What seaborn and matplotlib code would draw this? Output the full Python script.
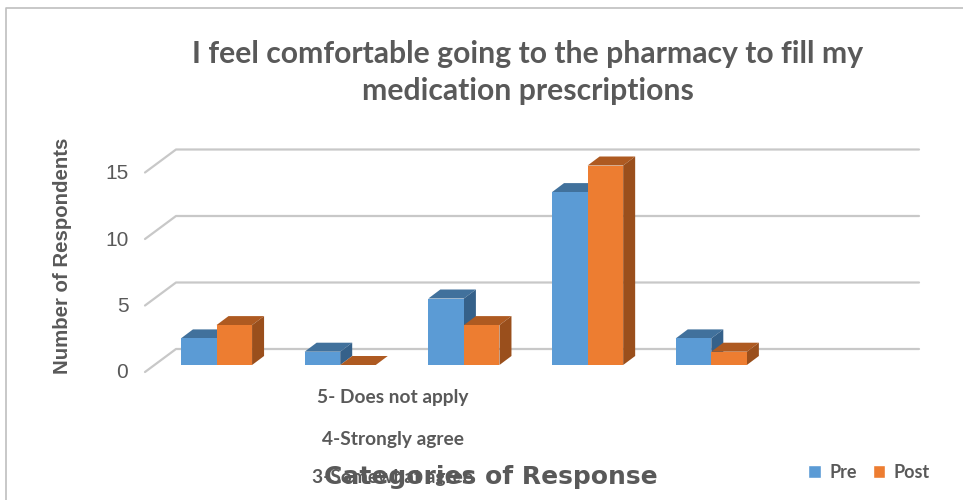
import matplotlib
matplotlib.use("Agg")
import matplotlib.pyplot as plt
from matplotlib.patches import Polygon, Rectangle
from matplotlib.transforms import Affine2D
import seaborn as sns
import pandas as pd

categories = ["1", "2", "3-Somewhat agree", "4-Strongly agree", "5- Does not apply"]
pre_values = [2, 1, 5, 13, 2]
post_values = [3, 0, 3, 15, 1]
y_tick_values = [0, 5, 10, 15]
stacked_labels = ["5- Does not apply", "4-Strongly agree", "3-Somewhat agree"]

W, H = 963, 500
BLUE, ORANGE = "#5B9BD5", "#ED7D31"
BLUE_TOP, BLUE_SIDE = "#41719C", "#35618A"
ORANGE_TOP, ORANGE_SIDE = "#AE5A21", "#9A4F1C"
GRID = "#C8C8C8"
TXT = "#595959"

sns.set_theme(style="white")
fig = plt.figure(figsize=(W / 100, H / 100), dpi=100, facecolor="white")

# axes: y=0 at pixel 365, 13.3 px per unit; category i at 216.5 + 123.7 i
L, R, BASE, TOP = 145, 925, 365, 140
ax = fig.add_axes([L / W, 1 - BASE / H, (R - L) / W, (BASE - TOP) / H])
ax.patch.set_alpha(0)
df = pd.DataFrame({
    "cat": categories * 2,
    "val": pre_values + post_values,
    "series": ["Pre"] * 5 + ["Post"] * 5,
})
sns.barplot(data=df, x="cat", y="val", hue="series", palette=[BLUE, ORANGE],
            hue_order=["Pre", "Post"], width=0.575, gap=0, dodge=True,
            saturation=1, legend=False, ax=ax, zorder=5, linewidth=0)
ax.set_xlim((L - 216.5) / 123.7, (R - 216.5) / 123.7)
ax.set_ylim(0, (BASE - TOP) / 13.3)
for s in ax.spines.values():
    s.set_visible(False)
ax.set_xticks([])
ax.set_xlabel("")
ax.set_ylabel("")


def shift(dx, dy):
    return ax.transData + Affine2D().translate(dx, dy)


# wall gridlines and floor/wall diagonals, offset in pixels from the data level
front = shift(0, -7)
to_disp = ax.transData
for v in y_tick_values:
    x_front_disp, y_front_disp = front.transform((ax.get_xlim()[0], v))
    x_back_disp, y_back_disp = x_front_disp + 31, y_front_disp + 23
    fig.add_artist(plt.Line2D([x_front_disp, x_back_disp, fig.bbox.width * 919 / W],
                              [y_front_disp, y_back_disp, y_back_disp],
                              transform=None, color=GRID, lw=1.6, zorder=0))

# depth faces built from each bar's geometry
DX, DY = 12, 9
containers = ax.containers
for bc, top_c, side_c in zip(containers, (BLUE_TOP, ORANGE_TOP), (BLUE_SIDE, ORANGE_SIDE)):
    for bar in bc:
        (x0, y0), (x1, y1) = to_disp.transform(
            [(bar.get_x(), 0), (bar.get_x() + bar.get_width(), bar.get_height())])
        ax.add_patch(Polygon([(x0, y1), (x1, y1), (x1 + DX, y1 + DY), (x0 + DX, y1 + DY)],
                             transform=None, fc=top_c, ec="none", zorder=4))
        ax.add_patch(Polygon([(x1, y0), (x1 + DX, y0 + DY), (x1 + DX, y1 + DY), (x1, y1)],
                             transform=None, fc=side_c, ec="none", zorder=4))

# y tick labels sit on the front edge
ax.set_yticks(y_tick_values)
ax.set_yticklabels([str(v) for v in y_tick_values], fontsize=15, color=TXT,
                   family="Liberation Sans")
ax.tick_params(axis="y", length=0, pad=12)
for lab in ax.get_yticklabels():
    lab.set_transform(lab.get_transform() + Affine2D().translate(0, -6))

# picture frame: top and left edges only
fig.add_artist(plt.Line2D([6 / W, 6 / W, 1], [0, 1 - 7.5 / H, 1 - 7.5 / H],
                          transform=fig.transFigure, color="#BFBFBF", lw=1.2))

fig.text(528 / W, 1 - 54 / H, "I feel comfortable going to the pharmacy to fill my",
         ha="center", va="center", fontsize=21.7, fontweight="bold", color=TXT, family="Lato")
fig.text(528 / W, 1 - 91 / H, "medication prescriptions",
         ha="center", va="center", fontsize=21.7, fontweight="bold", color=TXT, family="Lato")
fig.text(62 / W, 1 - 256 / H, "Number of Respondents", rotation=90, ha="center", va="center",
         fontsize=14.7, fontweight="bold", color=TXT, family="Liberation Sans")
for lab, yp in zip(stacked_labels, (398, 439, 478)):
    fig.text(393 / W, 1 - yp / H, lab, ha="center", va="center", fontsize=13.8,
             fontweight="bold", color=TXT, family="Lato")
fig.text(491 / W, 1 - 477 / H, "Categories of Response", ha="center", va="center",
         fontsize=18, fontweight="bold", color=TXT, family="DejaVu Sans")

# legend
handles = [Rectangle((0, 0), 1, 1, fc=BLUE), Rectangle((0, 0), 1, 1, fc=ORANGE)]
fig.legend(handles, ["Pre", "Post"], loc="center", bbox_to_anchor=(869 / W, 1 - 472 / H),
           ncol=2, frameon=False, handlelength=0.7, handleheight=0.7, handletextpad=0.45,
           columnspacing=0.9, prop={"family": "Lato", "weight": "bold", "size": 13},
           labelcolor=TXT)

fig.savefig("out.png", dpi=100)
